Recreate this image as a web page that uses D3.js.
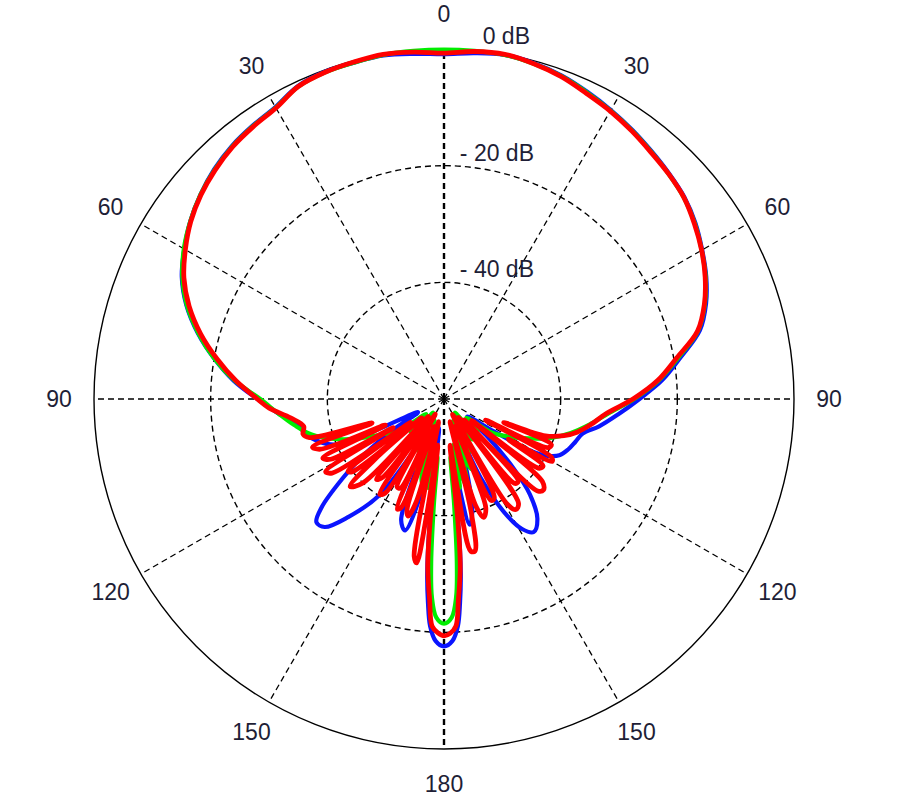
<!DOCTYPE html>
<html>
<head>
<meta charset="utf-8">
<script src="https://cdn.jsdelivr.net/npm/d3@7"></script>
<style>
  html, body { margin: 0; padding: 0; background: #ffffff; }
  svg { display: block; }
  text { font-family: "Liberation Sans", Arial, sans-serif; fill: #1e1e36; }
</style>
</head>
<body>
<svg id="chart" width="900" height="799"></svg>
<script>
// ---- data (angle in degrees clockwise from top, level in dB) ----
const spokeAngles = [0, 30, 60, 90, 120, 150, 180, 210, 240, 270, 300, 330];
const angleLabels = ["0", "30", "60", "90", "120", "150", "180", "150", "120", "90", "60", "30"];
const ringLevels = [-20, -40];
const ringLabelLevels = [0, -20, -40];
const ringLabels = ["0 dB", "- 20 dB", "- 40 dB"];

const blueAngles = [-180,-178,-176.5,-175.5,-174.5,-173.5,-172.3,-170,-167,-163.5,-160.5,-158,-155,-150,-146,-141,-137,-134,-131.5,-128,-125,-121,-117,-113,-108,-104,-100,-95,-90,-85,-80,-75,-70,-65,-60,-55,-50,-45,-40,-35,-30,-25,-20,-15,-10,-5,0,5,10,15,20,25,30,35,40,45,50,55,60,65,70,75,80,85,90,95,100,104,108,112,116,119,121,123,127,131,135,138,142,146,149,152,155,158,162,166,168.5,171,172.3,173.5,174.5,175.5,176.5,178];
const blueDb = [-17.6,-18.5,-21,-25,-30,-38,-50,-55,-45,-36.5,-38,-52,-56,-50,-40,-34,-30,-29.6,-32,-38,-43,-50,-55,-40,-37,-35.5,-34.5,-31.5,-28,-23.8,-20,-16.3,-13,-10.4,-8.6,-6.9,-5.5,-4.3,-3.4,-2.8,-2.2,-0.8,-0.3,-0.3,-0.2,-0.6,-0.9,-0.5,-0.1,-0.4,-1.0,-1.9,-2.8,-3.7,-4.6,-5.4,-6.2,-7.4,-8.9,-10.4,-12.2,-14.6,-18.8,-22.4,-26.5,-30,-33,-35.5,-36.3,-37,-38,-40,-43,-50,-55,-50,-43,-38,-34,-32.5,-34,-38,-45,-55,-48,-40,-38,-48,-50,-38,-30,-25,-21,-18.5];

const greenAngles = [-180,-178,-176.5,-175.5,-174.5,-173.5,-172,-170,-168,-166,-164,-162,-160,-158,-156,-154,-152,-150,-147,-144,-141,-138,-134,-130,-125,-120,-115,-110,-105,-100,-95,-90,-85,-80,-75,-70,-65,-60,-55,-50,-45,-40,-35,-30,-25,-20,-15,-10,-5,0,5,10,15,20,25,30,35,40,45,50,55,60,65,70,75,80,85,90,95,100,105,110,115,120,125,130,134,138,141,144,147,150,152,154,156,158,160,162,164,166,168,170,172,173.5,174.5,175.5,176.5,178];
const greenDb = [-21.5,-22.5,-26,-32,-42,-50,-46,-44.5,-52,-45,-46,-55,-48,-47,-56,-50,-51,-57,-52,-51.5,-57,-53,-52,-56,-50,-48,-44,-40,-36.5,-34,-31.5,-28.5,-24,-20,-16.4,-13.1,-10.5,-8.5,-6.9,-5.5,-4.4,-3.5,-2.9,-2.3,-0.9,-0.4,-0.3,-0.1,-0.1,-0.1,-0.1,-0.1,-0.5,-1.1,-2.0,-2.9,-3.8,-4.7,-5.5,-6.3,-7.5,-9.0,-10.5,-12.4,-14.9,-19.2,-23,-27.4,-31.7,-34.7,-37.5,-40.5,-44,-47,-50,-55,-52,-53,-57,-51.5,-52,-57,-51,-50,-56,-47,-48,-55,-46,-45,-52,-44.5,-46,-50,-42,-32,-26,-22.5];

const redAngles = [-180,-178.5,-177,-175.9,-174.5,-173.5,-172.3,-171.5,-170.5,-169.3,-168,-166.5,-165,-163,-161.5,-160,-158.5,-157,-155.5,-154,-152,-150,-148,-146,-144,-142,-140,-138,-136,-133,-131,-130,-128.5,-127,-125,-123.5,-121.5,-119.5,-118,-116,-114,-112,-110,-108.5,-106,-104,-101,-97,-93,-90,-85,-80,-75,-70,-65,-60,-55,-50,-45,-40,-35,-30,-25,-20,-15,-10,-5,0,5,10,15,20,25,30,35,40,45,50,55,60,65,70,75,80,85,90,95,100,104,107,110,111.5,113,115,117,118.5,120,122,124,126,128,130,132.5,134.5,136,138,140,142,144.5,147,149,151,153,155,157,159,161.5,163.5,165,166.5,168.5,170,171.5,172.5,173.5,174.5,175.9,177,178.5];
const redDb = [-19.4,-19.9,-21,-25.5,-31,-39,-52,-40,-31.5,-32.5,-45,-56,-42,-39,-40,-55,-40,-39.5,-54,-43,-42.9,-57,-41,-40.3,-55,-43,-42,-56,-40,-38,-45,-55,-40,-39.4,-53,-37,-36.2,-50,-38,-36.9,-49,-37,-36,-47,-36,-35.1,-35.5,-33.5,-30,-28,-24.2,-20.5,-16.8,-13.5,-10.8,-8.8,-7.0,-5.6,-4.5,-3.6,-3.0,-2.4,-0.9,-0.4,-0.2,0,-0.3,-0.7,-0.2,0,-0.5,-1.2,-2.2,-3.0,-3.9,-4.8,-5.5,-6.3,-7.6,-9.0,-10.6,-12.5,-15.0,-19.5,-23.2,-27.6,-32,-34.5,-36.5,-38.5,-41.5,-49,-40,-40.3,-52,-39,-38.6,-47,-39.5,-39.8,-54,-38,-36.9,-37.5,-55,-41,-41.1,-56,-38,-37.4,-39,-57,-41,-40.8,-55,-40,-38.6,-41,-56,-40,-33.4,-33.5,-45,-52,-39,-31,-25.5,-21,-19.8];

// ---- layout ----
const cx = 444, cy = 399, R = 350;
const svg = d3.select("#chart");
const r = d3.scaleLinear().domain([-60, 0]).range([0, R]).clamp(true);
const toRad = d => d * Math.PI / 180;

const g = svg.append("g").attr("transform", `translate(${cx},${cy})`);

// spokes
g.selectAll("line.spoke").data(spokeAngles).join("line")
  .attr("class", "spoke")
  .attr("x1", 0).attr("y1", 0)
  .attr("x2", d => r(0) * Math.sin(toRad(d)))
  .attr("y2", d => -r(0) * Math.cos(toRad(d)))
  .attr("stroke", "#000")
  .attr("stroke-width", d => (d % 180 === 0) ? 2.4 : (d % 90 === 0 ? 1.5 : 1.3))
  .attr("stroke-dasharray", "6,4");

// dotted rings
g.selectAll("circle.ring").data(ringLevels).join("circle")
  .attr("class", "ring")
  .attr("r", d => r(d))
  .attr("fill", "none")
  .attr("stroke", "#000")
  .attr("stroke-width", 1.4)
  .attr("stroke-dasharray", "6,4");

// outer circle
g.append("circle")
  .attr("r", r(0))
  .attr("fill", "none")
  .attr("stroke", "#000")
  .attr("stroke-width", 1.4);

// angle labels
g.selectAll("text.ang").data(spokeAngles).join("text")
  .attr("class", "ang")
  .attr("x", d => 1.1 * r(0) * Math.sin(toRad(d)))
  .attr("y", d => -1.1 * r(0) * Math.cos(toRad(d)))
  .attr("text-anchor", "middle")
  .attr("dominant-baseline", "central")
  .attr("font-size", 23)
  .text((d, i) => angleLabels[i]);

// ring labels
g.selectAll("text.rl").data(ringLabelLevels).join("text")
  .attr("class", "rl")
  .attr("x", d => d === 0 ? 86 : 90)
  .attr("y", d => -r(d) - 13)
  .attr("text-anchor", "end")
  .attr("dominant-baseline", "central")
  .attr("font-size", 23)
  .text((d, i) => ringLabels[i]);

// curves
const line = d3.lineRadial()
  .angle(d => toRad(d[0]))
  .radius(d => r(d[1]))
  .curve(d3.curveCatmullRomClosed.alpha(0.5));

const series = [
  { a: blueAngles, v: blueDb, color: "#0a14ff", w: 4.2 },
  { a: greenAngles, v: greenDb, color: "#00ee00", w: 4.2 },
  { a: redAngles, v: redDb, color: "#ff0000", w: 4.8 }
];

g.selectAll("path.curve").data(series).join("path")
  .attr("class", "curve")
  .attr("d", s => line(d3.zip(s.a, s.v)))
  .attr("fill", "none")
  .attr("stroke", s => s.color)
  .attr("stroke-width", s => s.w)
  .attr("stroke-linejoin", "round")
  .attr("stroke-linecap", "round");
</script>
</body>
</html>
